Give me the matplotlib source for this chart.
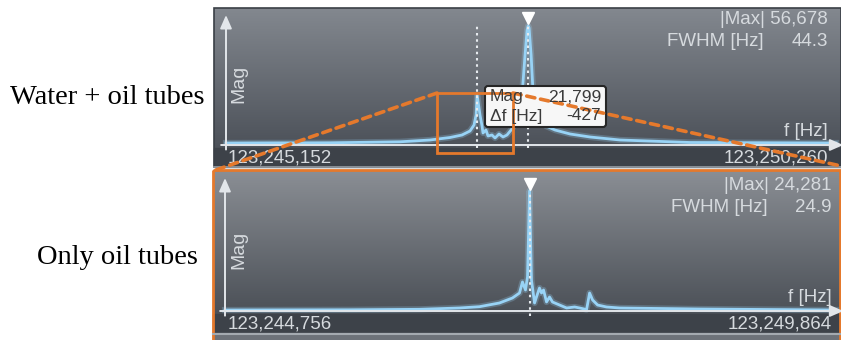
import matplotlib
matplotlib.use("Agg")
import numpy as np
import matplotlib.pyplot as plt
from matplotlib.colors import LinearSegmentedColormap
from matplotlib.patches import Rectangle, FancyBboxPatch, ConnectionPatch

# spectrum with water + oil tubes (frequency in Hz, magnitude)
top_freq = [123245152, 123245521, 123246023, 123246609, 123246860, 123247028, 123247128,
            123247195, 123247229, 123247246, 123247255, 123247279, 123247296, 123247304,
            123247329, 123247346, 123247379, 123247405, 123247438, 123247472, 123247505,
            123247539, 123247572, 123247606, 123247631, 123247656, 123247673, 123247682,
            123247690, 123247707, 123247723, 123247748, 123247781, 123247832, 123247907,
            123248033, 123248200, 123248451, 123249038, 123250260]
top_mag = [950, 1000, 1050, 1520, 2380, 3570, 4760,
           6660, 9520, 14280, 23800, 14280, 9040, 5710,
           7140, 4280, 4760, 3330, 5240, 3810, 4760,
           7140, 10000, 15700, 23800, 42800, 54700, 56678,
           55700, 42800, 25200, 16700, 11900, 9040, 7140,
           5240, 3810, 2380, 1190, 950]

# spectrum with only oil tubes
bot_freq = [123244756, 123245794, 123246381, 123246716, 123246883, 123247050, 123247159,
            123247218, 123247243, 123247268, 123247285, 123247302, 123247318, 123247344,
            123247360, 123247385, 123247402, 123247419, 123247444, 123247469, 123247494,
            123247553, 123247612, 123247679, 123247720, 123247779, 123247804, 123247829,
            123247871, 123247946, 123248055, 123248725, 123249864]
bot_mag = [200, 240, 340, 610, 870, 1620, 2630,
           3640, 5870, 4250, 6880, 24281, 6270, 1620,
           2830, 4650, 3640, 4250, 1820, 2830, 1820,
           1210, 610, 810, 610, 300, 3640, 2230,
           1210, 810, 610, 400, 200]

top_range = [123245152, 123250260]
bot_range = [123244756, 123249864]
top_peak, top_cursor = 123247682, 123247255
bot_peak = 123247302
top_stats = ["56,678", "44.3"]
bot_stats = ["24,281", "24.9"]
cursor_vals = ["21,799", "-427"]
zoom_f = [123246919, 123247555]
zoom_m = [-3800, 24750]

W, H = 841, 340
SANS = "Liberation Sans"
TXT = "#d6dade"
AXC = "#e2e6ea"
CURVE = "#98d3f6"
ORANGE = "#e5792c"

fig = plt.figure(figsize=(W / 100, H / 100), dpi=100)


def px_axes(x0, y0, x1, y1, z):
    a = fig.add_axes([x0 / W, 1 - y1 / H, (x1 - x0) / W, (y1 - y0) / H])
    a.set_zorder(z)
    return a


# background panels drawn in pixel coordinates
bg = fig.add_axes([0, 0, 1, 1])
grad = np.linspace(0, 1, 256).reshape(-1, 1)
cm_top = LinearSegmentedColormap.from_list("t", ["#83888f", "#4c5159"])
cm_bot = LinearSegmentedColormap.from_list("b", ["#8a8e94", "#4b5057"])
bg.imshow(grad, extent=(214, 841, 148, 8), cmap=cm_top, aspect="auto")
bg.imshow(grad, extent=(213, 841, 314, 171), cmap=cm_bot, aspect="auto")
bg.add_patch(Rectangle((214, 148), 627, 19, color="#3d4249"))
bg.add_patch(Rectangle((213, 314), 628, 19, color="#3d4249"))
bg.add_patch(Rectangle((213, 333), 628, 7, color="#6d7279"))
bg.plot([214, 841], [167, 167], color="#9aa0a6", lw=1.2)
bg.plot([213, 841], [333.5, 333.5], color="#a4aab0", lw=1.5)
bg.add_patch(Rectangle((214, 8), 627, 159, fill=False, ec="#3a3f46", lw=1.2))
bg.add_patch(Rectangle((213, 170), 627, 175, fill=False, ec=ORANGE, lw=2))
bg.set_xlim(0, W)
bg.set_ylim(H, 0)
bg.axis("off")

# row labels
bg.text(10, 97, "Water + oil tubes", family="Liberation Serif", fontsize=20.5,
        ha="left", va="center", color="black")
bg.text(37, 257, "Only oil tubes", family="Liberation Serif", fontsize=20.5,
        ha="left", va="center", color="black")

# panel texts
for y0, stats, lo, xr in [(0, top_stats, top_range, 828),
                          (166, bot_stats, bot_range, 832)]:
    bg.text(xr, y0 + 20, "|Max| " + stats[0], family=SANS, fontsize=13.5,
            color=TXT, ha="right", va="center")
    bg.text(xr - 161, y0 + 42, "FWHM [Hz]", family=SANS, fontsize=13.5,
            color=TXT, ha="left", va="center")
    bg.text(xr, y0 + 42, stats[1], family=SANS, fontsize=13.5,
            color=TXT, ha="right", va="center")
    bg.text(xr, y0 + 131, "f [Hz]", family=SANS, fontsize=13.5,
            color=TXT, ha="right", va="center")
    bg.text(239, y0 + 84, "Mag", family=SANS, fontsize=14, color=TXT,
            rotation=90, ha="center", va="center")
    bg.text(228, y0 + 158, f"{lo[0]:,}", family=SANS, fontsize=13.5,
            color=TXT, ha="left", va="center")
    bg.text(xr, y0 + 158, f"{lo[1]:,}", family=SANS, fontsize=13.5,
            color=TXT, ha="right", va="center")

# spectra
ax_top = px_axes(226, 15, 836, 145, 2)
ax_bot = px_axes(225, 178, 836, 311, 2)
panels = [(ax_top, top_freq, top_mag, top_range, 61900, [top_peak, top_cursor], 57100, -1400, 60700),
          (ax_bot, bot_freq, bot_mag, bot_range, 26900, [bot_peak], 24000, -1000, 25700)]
for ax, f, m, rng, ytop, marks, mtop, mbot, tri in panels:
    ax.set_xlim(rng)
    ax.set_ylim(0, ytop)
    ax.axis("off")
    ax.annotate("", xy=(0, 1), xytext=(0, -0.035), xycoords="axes fraction",
                arrowprops=dict(arrowstyle="-|>,head_length=0.8,head_width=0.35",
                                color=AXC, lw=1.4, shrinkA=0, shrinkB=0),
                annotation_clip=False)
    ax.annotate("", xy=(1.012, 0), xytext=(-0.008, 0), xycoords="axes fraction",
                arrowprops=dict(arrowstyle="-|>,head_length=0.8,head_width=0.35",
                                color=AXC, lw=1.4, shrinkA=0, shrinkB=0),
                annotation_clip=False)
    ax.plot(f, m, color=CURVE, lw=4.5, alpha=0.25, clip_on=False)
    ax.plot(f, m, color=CURVE, lw=2, clip_on=False)
    ax.vlines(marks, mbot, mtop, colors="#e6eaee", linestyles=(0, (1.2, 1.8)),
              lw=1.5, clip_on=False)
    ax.plot(marks[0], tri, marker="v", color="white", ms=8, clip_on=False)

# overlay: cursor tooltip and zoom window
ov = fig.add_axes([0, 0, 1, 1])
ov.set_zorder(5)
ov.set_xlim(0, W)
ov.set_ylim(H, 0)
ov.axis("off")
ov.add_patch(FancyBboxPatch((485, 86), 121, 41, boxstyle="round,pad=0,rounding_size=3",
                            fc="#f7f7f7", ec="#262626", lw=1.5))
ov.text(490, 97, "Mag", family=SANS, fontsize=12.5, color="#3a3a3a", va="center")
ov.text(490, 116, "Δf [Hz]", family=SANS, fontsize=12.5, color="#3a3a3a", va="center")
ov.text(601, 97, cursor_vals[0], family=SANS, fontsize=12.5, color="#3a3a3a",
        va="center", ha="right")
ov.text(601, 116, cursor_vals[1], family=SANS, fontsize=12.5, color="#3a3a3a",
        va="center", ha="right")

ov.add_patch(Rectangle((zoom_f[0], zoom_m[0]), zoom_f[1] - zoom_f[0], zoom_m[1] - zoom_m[0],
                       transform=ax_top.transData, fill=False, ec=ORANGE, lw=2, clip_on=False))
for corner, end in [((zoom_f[0], zoom_m[1]), (213, 171)), ((zoom_f[1], zoom_m[1]), (841, 166))]:
    con = ConnectionPatch(xyA=corner, coordsA=ax_top.transData, xyB=end, coordsB=ov.transData,
                          color=ORANGE, lw=2.6, linestyle=(0, (2.3, 1.6)))
    ov.add_artist(con)

fig.savefig("out.png", dpi=100)
